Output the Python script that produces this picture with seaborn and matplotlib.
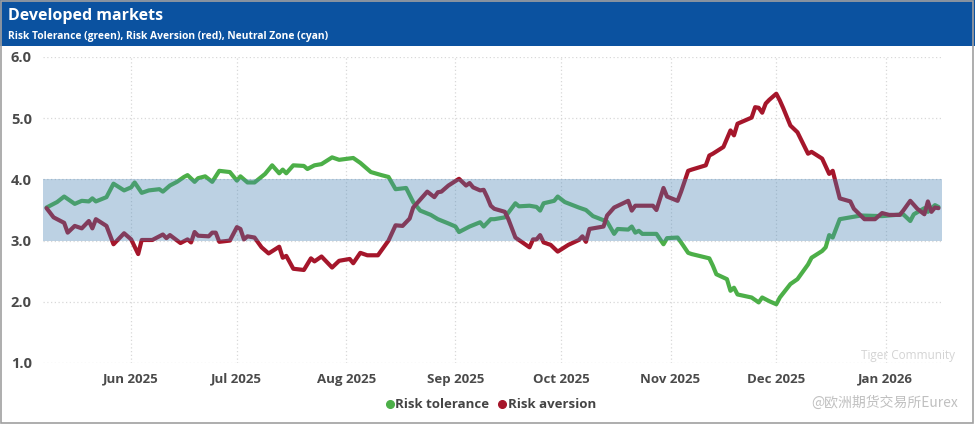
import pandas as pd
import seaborn as sns
import matplotlib.pyplot as plt
import matplotlib.dates as mdates
from matplotlib.lines import Line2D
from matplotlib.patches import Rectangle

# Risk tolerance (green)
tol_dates = ["2025-05-08", "2025-05-11", "2025-05-13", "2025-05-16", "2025-05-18", "2025-05-20",
             "2025-05-21", "2025-05-22", "2025-05-25", "2025-05-27", "2025-05-30", "2025-06-01",
             "2025-06-02", "2025-06-04", "2025-06-06", "2025-06-09", "2025-06-10", "2025-06-12",
             "2025-06-14", "2025-06-16", "2025-06-17", "2025-06-19", "2025-06-20", "2025-06-22",
             "2025-06-24", "2025-06-26", "2025-06-29", "2025-07-01", "2025-07-02", "2025-07-04",
             "2025-07-06", "2025-07-09", "2025-07-11", "2025-07-13", "2025-07-14", "2025-07-15",
             "2025-07-17", "2025-07-20", "2025-07-21", "2025-07-23", "2025-07-25", "2025-07-28",
             "2025-07-30", "2025-08-03", "2025-08-05", "2025-08-08", "2025-08-11", "2025-08-13",
             "2025-08-15", "2025-08-18", "2025-08-20", "2025-08-22", "2025-08-25", "2025-08-27",
             "2025-08-30", "2025-09-01", "2025-09-02", "2025-09-05", "2025-09-08", "2025-09-09",
             "2025-09-11", "2025-09-12", "2025-09-15", "2025-09-18", "2025-09-19", "2025-09-22",
             "2025-09-24", "2025-09-25", "2025-09-26", "2025-09-29", "2025-09-30", "2025-10-02",
             "2025-10-06", "2025-10-08", "2025-10-10", "2025-10-14", "2025-10-16", "2025-10-17",
             "2025-10-20", "2025-10-21", "2025-10-22", "2025-10-23", "2025-10-24", "2025-10-28",
             "2025-10-30", "2025-10-31", "2025-11-03", "2025-11-04", "2025-11-06", "2025-11-07",
             "2025-11-12", "2025-11-13", "2025-11-14", "2025-11-17", "2025-11-18", "2025-11-19",
             "2025-11-20", "2025-11-24", "2025-11-26", "2025-11-27", "2025-11-29", "2025-12-01",
             "2025-12-02", "2025-12-05", "2025-12-07", "2025-12-10", "2025-12-11", "2025-12-14",
             "2025-12-15", "2025-12-16", "2025-12-17", "2025-12-19", "2025-12-22", "2025-12-25",
             "2025-12-31", "2026-01-04", "2026-01-06", "2026-01-08", "2026-01-09", "2026-01-12",
             "2026-01-13", "2026-01-15", "2026-01-16"]
tol_values = [3.54, 3.63, 3.72, 3.60, 3.65, 3.64,
              3.69, 3.64, 3.71, 3.93, 3.82, 3.87,
              3.95, 3.78, 3.82, 3.84, 3.80, 3.90,
              3.96, 4.04, 4.07, 3.96, 4.02, 4.05,
              3.96, 4.14, 4.12, 3.98, 4.05, 3.95,
              3.95, 4.09, 4.23, 4.10, 4.16, 4.10,
              4.23, 4.22, 4.17, 4.23, 4.25, 4.36,
              4.32, 4.35, 4.27, 4.12, 4.07, 4.04,
              3.84, 3.86, 3.63, 3.49, 3.42, 3.35,
              3.28, 3.23, 3.14, 3.23, 3.30, 3.23,
              3.35, 3.35, 3.38, 3.61, 3.56, 3.57,
              3.55, 3.49, 3.61, 3.65, 3.72, 3.63,
              3.54, 3.50, 3.40, 3.31, 3.11, 3.19,
              3.18, 3.23, 3.13, 3.16, 3.11, 3.11,
              2.94, 3.04, 3.05, 2.97, 2.80, 2.78,
              2.71, 2.59, 2.45, 2.37, 2.18, 2.23,
              2.12, 2.07, 1.99, 2.07, 2.01, 1.96,
              2.07, 2.29, 2.37, 2.61, 2.72, 2.83,
              2.89, 3.09, 3.05, 3.35, 3.38, 3.41,
              3.40, 3.42, 3.43, 3.32, 3.43, 3.53,
              3.47, 3.58, 3.55]

# Risk aversion (red)
av_dates = ["2025-05-08", "2025-05-10", "2025-05-13", "2025-05-14", "2025-05-16", "2025-05-18",
            "2025-05-20", "2025-05-21", "2025-05-22", "2025-05-25", "2025-05-27", "2025-05-30",
            "2025-06-01", "2025-06-03", "2025-06-04", "2025-06-07", "2025-06-10", "2025-06-11",
            "2025-06-12", "2025-06-15", "2025-06-17", "2025-06-18", "2025-06-19", "2025-06-20",
            "2025-06-23", "2025-06-24", "2025-06-25", "2025-06-26", "2025-06-29", "2025-07-01",
            "2025-07-02", "2025-07-03", "2025-07-04", "2025-07-06", "2025-07-08", "2025-07-10",
            "2025-07-13", "2025-07-14", "2025-07-15", "2025-07-17", "2025-07-20", "2025-07-22",
            "2025-07-23", "2025-07-25", "2025-07-28", "2025-07-30", "2025-08-02", "2025-08-03",
            "2025-08-05", "2025-08-07", "2025-08-10", "2025-08-13", "2025-08-15", "2025-08-17",
            "2025-08-19", "2025-08-20", "2025-08-22", "2025-08-24", "2025-08-26", "2025-08-27",
            "2025-08-28", "2025-08-30", "2025-09-02", "2025-09-04", "2025-09-05", "2025-09-06",
            "2025-09-08", "2025-09-09", "2025-09-10", "2025-09-11", "2025-09-12", "2025-09-15",
            "2025-09-16", "2025-09-18", "2025-09-22", "2025-09-23", "2025-09-24", "2025-09-25",
            "2025-09-26", "2025-09-28", "2025-09-30", "2025-10-03", "2025-10-06", "2025-10-07",
            "2025-10-08", "2025-10-09", "2025-10-13", "2025-10-14", "2025-10-16", "2025-10-20",
            "2025-10-21", "2025-10-22", "2025-10-27", "2025-10-28", "2025-10-30", "2025-10-31",
            "2025-11-03", "2025-11-04", "2025-11-06", "2025-11-07", "2025-11-11", "2025-11-12",
            "2025-11-13", "2025-11-16", "2025-11-18", "2025-11-19", "2025-11-20", "2025-11-22",
            "2025-11-24", "2025-11-25", "2025-11-26", "2025-11-27", "2025-11-28", "2025-11-29",
            "2025-12-01", "2025-12-02", "2025-12-03", "2025-12-05", "2025-12-07", "2025-12-10",
            "2025-12-11", "2025-12-14", "2025-12-16", "2025-12-17", "2025-12-19", "2025-12-22",
            "2025-12-23", "2025-12-26", "2025-12-29", "2025-12-31", "2026-01-02", "2026-01-05",
            "2026-01-06", "2026-01-08", "2026-01-10", "2026-01-12", "2026-01-13", "2026-01-14",
            "2026-01-15", "2026-01-16"]
av_values = [3.53, 3.38, 3.29, 3.13, 3.24, 3.20,
             3.32, 3.20, 3.35, 3.24, 2.94, 3.12,
             3.02, 2.78, 3.01, 3.01, 3.10, 3.04,
             3.09, 2.96, 3.02, 2.97, 3.14, 3.08,
             3.07, 3.13, 3.13, 2.98, 3.00, 3.22,
             3.19, 3.02, 3.07, 3.05, 2.89, 2.79,
             2.90, 2.72, 2.75, 2.54, 2.52, 2.71,
             2.66, 2.74, 2.56, 2.67, 2.70, 2.63,
             2.80, 2.76, 2.76, 3.00, 3.25, 3.24,
             3.36, 3.54, 3.67, 3.80, 3.71, 3.79,
             3.80, 3.90, 4.01, 3.90, 3.94, 3.87,
             3.82, 3.83, 3.71, 3.57, 3.52, 3.47,
             3.35, 3.05, 2.89, 3.02, 3.02, 3.09,
             2.97, 2.93, 2.82, 2.93, 3.01, 3.07,
             2.98, 3.19, 3.23, 3.41, 3.54, 3.65,
             3.49, 3.57, 3.57, 3.50, 3.86, 3.72,
             3.65, 3.80, 4.14, 4.16, 4.23, 4.39,
             4.42, 4.53, 4.80, 4.72, 4.91, 4.96,
             5.01, 5.18, 5.17, 5.09, 5.24, 5.30,
             5.40, 5.29, 5.16, 4.88, 4.77, 4.42,
             4.45, 4.34, 4.09, 4.14, 3.69, 3.64,
             3.52, 3.35, 3.35, 3.45, 3.42, 3.42,
             3.49, 3.65, 3.52, 3.43, 3.64, 3.47,
             3.54, 3.53]

zone_low, zone_high = 3.0, 4.0
y_ticks = [1.0, 2.0, 3.0, 4.0, 5.0, 6.0]
x_start, x_end = "2025-05-07", "2026-01-17"

green = "#4caf48"
red = "#a5162b"

tol = pd.DataFrame({"date": pd.to_datetime(tol_dates), "value": tol_values})
av = pd.DataFrame({"date": pd.to_datetime(av_dates), "value": av_values})

sns.set_theme(style="white")
plt.rcParams["font.family"] = ["Open Sans", "Noto Sans CJK SC", "DejaVu Sans"]

fig = plt.figure(figsize=(9.75, 4.24), dpi=100)
fig.patch.set_facecolor("white")

# header bar
fig.patches.append(Rectangle((0, 1 - 46 / 424), 1, 46 / 424, transform=fig.transFigure,
                             facecolor="#0b52a0", edgecolor="none", zorder=0))
fig.patches.append(Rectangle((0.001, 0.002), 0.997, 0.996, transform=fig.transFigure,
                             facecolor="none", edgecolor="#a0a0a0", lw=1.2, zorder=5))
fig.text(8 / 975, 1 - 16 / 424, "Developed markets", color="white", fontsize=11.5,
         fontweight="bold", va="center", ha="left")
fig.text(8 / 975, 1 - 36 / 424, "Risk Tolerance (green), Risk Aversion (red), Neutral Zone (cyan)",
         color="white", fontsize=7.4, fontweight="bold", va="center", ha="left")

ax = fig.add_axes([43 / 975, 1 - 363 / 424, 899 / 975, 306 / 424])

sns.lineplot(data=tol, x="date", y="value", color=green, lw=3.0, ax=ax, zorder=3)
sns.lineplot(data=av, x="date", y="value", color=red, lw=3.0, ax=ax, zorder=3)

# neutral zone drawn over the lines, like the original
ax.axhspan(zone_low, zone_high, color="#4682b4", alpha=0.36, lw=0, zorder=4)

ax.set_xlim(pd.Timestamp(x_start), pd.Timestamp(x_end))
ax.set_ylim(1.0, 6.0)
ax.set_yticks(y_ticks)
ax.set_yticklabels([f"{v:.1f}" for v in y_ticks])
ax.xaxis.set_major_locator(mdates.MonthLocator())
ax.xaxis.set_major_formatter(mdates.DateFormatter("%b %Y"))
ax.set_xlabel("")
ax.set_ylabel("")
for s in ax.spines.values():
    s.set_visible(False)
ax.grid(True, color="#d8d8d8", ls=(0, (1, 2)), lw=0.9)
ax.tick_params(axis="both", length=0, colors="#4a4a4a")
ax.tick_params(axis="y", pad=8, labelsize=10.5)
ax.tick_params(axis="x", pad=7, labelsize=9.5)
for lab in ax.get_xticklabels() + ax.get_yticklabels():
    lab.set_fontweight("bold")

handles = [Line2D([], [], marker="o", ls="", color=green, markersize=5.5),
           Line2D([], [], marker="o", ls="", color=red, markersize=5.5)]
fig.legend(handles, ["Risk tolerance", "Risk aversion"], loc="center",
           bbox_to_anchor=(488 / 975, 1 - 405 / 424), ncol=2, frameon=False,
           handletextpad=-0.3, columnspacing=0.2, handlelength=1.5,
           prop={"weight": "bold", "size": 9.5}, labelcolor="#444444")

# watermark
fig.text(955 / 975, 1 - 356 / 424, "Tiger Community", color="#cccccc", fontsize=8.5,
         ha="right", va="center", alpha=0.85)
fig.text(958 / 975, 1 - 403 / 424, "@欧洲期货交易所Eurex", color="#c0c0c0", fontsize=10,
         ha="right", va="center", family=["Noto Sans CJK SC", "DejaVu Sans"])

fig.savefig("out.png", dpi=100)
